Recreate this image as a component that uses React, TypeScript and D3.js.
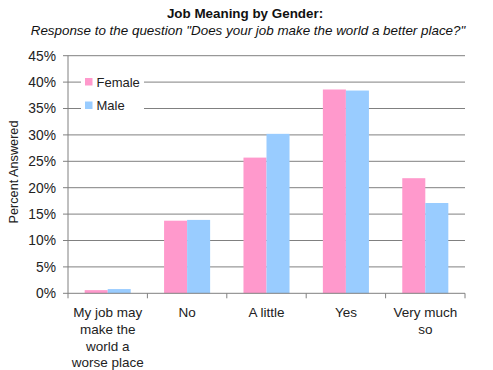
import React from "react";
import * as d3 from "d3";

const categories = ["My job may|make the|world a|worse place", "No", "A little", "Yes", "Very much|so"];
const series = ["Female", "Male"];
const femaleValues = [0.6, 13.75, 25.7, 38.6, 21.8];
const maleValues = [0.8, 13.9, 30.2, 38.4, 17.1];
const yTicks = [0, 5, 10, 15, 20, 25, 30, 35, 40, 45];
const colors = ["#FF99CC", "#99CCFF"];

const W = 493, H = 370;
const left = 68, right = 465, top = 55.7, bottom = 293.3;
const font = "'Liberation Sans', Arial, sans-serif";

export default function App() {
  const x0 = d3.scaleBand<number>().domain(d3.range(categories.length)).range([left, right]).paddingInner(0.42).paddingOuter(0.21);
  const x1 = d3.scaleBand<number>().domain([0, 1]).range([0, x0.bandwidth()]);
  const y = d3.scaleLinear().domain([0, 45]).range([bottom, top]);
  const step = (right - left) / categories.length;
  const data = [femaleValues, maleValues];
  return (
    <svg width={W} height={H} style={{ position: "absolute", left: 0, top: 0, background: "#fff" }} fontFamily={font}>
      <rect width={W} height={H} fill="#fff" />
      <text x={245} y={18} textAnchor="middle" fontWeight="bold" fontSize={13.4} fill="#111">Job Meaning by Gender:</text>
      <text x={248} y={35} textAnchor="middle" fontStyle="italic" fontSize={13.4} fill="#111">Response to the question "Does your job make the world a better place?"</text>
      {yTicks.map((t) => (
        <g key={t}>
          {t > 0 && <line x1={left} x2={right} y1={y(t)} y2={y(t)} stroke="#808080" strokeWidth={1} />}
          <line x1={left - 5} x2={left} y1={y(t)} y2={y(t)} stroke="#808080" />
          <text x={56} y={y(t)} dy="0.35em" textAnchor="end" fontSize={13.8} fill="#222">{t}%</text>
        </g>
      ))}
      {data.map((vals, si) =>
        vals.map((v, ci) => (
          <rect key={si + "-" + ci} x={(x0(ci) as number) + (x1(si) as number)} y={y(v)} width={x1.bandwidth()} height={bottom - y(v)} fill={colors[si]} />
        ))
      )}
      <line x1={left} x2={left} y1={top} y2={bottom} stroke="#808080" />
      <line x1={left} x2={right} y1={bottom} y2={bottom} stroke="#808080" />
      {d3.range(categories.length + 1).map((i) => (
        <line key={i} x1={left + i * step} x2={left + i * step} y1={bottom} y2={bottom + 5} stroke="#808080" />
      ))}
      {categories.map((c, ci) => (
        <text key={c} textAnchor="middle" fontSize={13.5} fill="#222">
          {c.split("|").map((line, li) => (
            <tspan key={li} x={left + (ci + 0.5) * step} y={317 + li * 16.8}>{line}</tspan>
          ))}
        </text>
      ))}
      <text transform={`translate(18,172) rotate(-90)`} textAnchor="middle" fontSize={12.7} fill="#222">Percent Answered</text>
      <rect x={81} y={70} width={63} height={46} fill="#fff" />
      {series.map((s, i) => (
        <g key={s}>
          <rect x={85} y={78 + i * 23.5} width={7.5} height={7.5} fill={colors[i]} />
          <text x={96.5} y={82 + i * 23.5} dy="0.35em" fontSize={13} fill="#222">{s}</text>
        </g>
      ))}
    </svg>
  );
}
